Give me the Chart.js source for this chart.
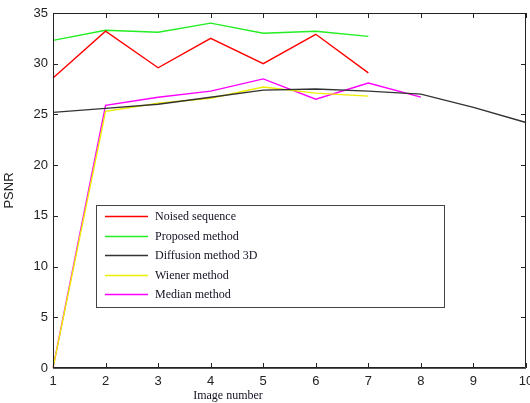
<!DOCTYPE html>
<html>
<head>
<meta charset="utf-8">
<script src="https://cdn.jsdelivr.net/npm/chart.js@4"></script>
<style>
  html, body { margin: 0; padding: 0; background: #fff; }
  #wrap { width: 530px; height: 403px; }
</style>
</head>
<body>
<div id="wrap"><canvas id="psnr-chart" width="530" height="403"></canvas></div>
<script>
// data
const imageNumbers = [1, 2, 3, 4, 5, 6, 7, 8, 9, 10];
const seriesNames = ["Noised sequence", "Proposed method", "Diffusion method 3D", "Wiener method", "Median method"];
const noised = [28.6, 33.2, 29.6, 32.5, 30.0, 32.9, 29.1];
const proposed = [32.3, 33.3, 33.1, 34.0, 33.0, 33.2, 32.7];
const diffusion = [25.2, 25.6, 26.0, 26.7, 27.4, 27.5, 27.3, 27.0, 25.7, 24.2];
const wiener = [0, 25.3, 26.1, 26.6, 27.7, 27.1, 26.8];
const median = [0, 25.9, 26.7, 27.3, 28.5, 26.5, 28.1, 26.7];
const seriesColors = ["#ff0000", "#22ee22", "#333333", "#eeee00", "#ff00ff"];

const tickFont = { family: "'Liberation Sans', Arial, sans-serif", size: 13 };
const serifFont = "12px 'Liberation Serif', 'DejaVu Serif', serif";

// inward ticks on all four sides + box frame
const frameTicks = {
  id: "frameTicks",
  afterDraw(chart) {
    const { ctx, chartArea: a, scales } = chart;
    ctx.save();
    ctx.strokeStyle = "#222";
    ctx.lineWidth = 1;
    ctx.beginPath();
    ctx.rect(a.left + 0.5, a.top + 0.5, a.right - a.left - 1, a.bottom - a.top - 1);
    scales.x.ticks.forEach((t, i) => {
      const px = Math.round(scales.x.getPixelForTick(i)) + 0.5;
      ctx.moveTo(px, a.bottom); ctx.lineTo(px, a.bottom - 5);
      ctx.moveTo(px, a.top); ctx.lineTo(px, a.top + 5);
    });
    scales.y.ticks.forEach((t) => {
      const py = Math.round(scales.y.getPixelForValue(t.value)) + 0.5;
      ctx.moveTo(a.left, py); ctx.lineTo(a.left + 5, py);
      ctx.moveTo(a.right, py); ctx.lineTo(a.right - 5, py);
    });
    ctx.stroke();
    // bottom axis a little heavier, like the original
    ctx.strokeStyle = "#555";
    ctx.beginPath();
    ctx.moveTo(a.left, a.bottom + 0.5);
    ctx.lineTo(a.right, a.bottom + 0.5);
    ctx.stroke();
    ctx.restore();
  },
};

// matlab style legend box in the middle of the plot
const boxLegend = {
  id: "boxLegend",
  afterDraw(chart) {
    const ctx = chart.ctx;
    const x0 = 96, y0 = 205, w = 348, h = 102;
    ctx.save();
    ctx.fillStyle = "#fff";
    ctx.fillRect(x0, y0, w, h);
    ctx.strokeStyle = "#444";
    ctx.lineWidth = 1;
    ctx.strokeRect(x0 + 0.5, y0 + 0.5, w, h);
    ctx.font = serifFont;
    ctx.textBaseline = "middle";
    chart.data.datasets.forEach((ds, i) => {
      const y = Math.round(y0 + 11 + i * 19.5) + 0.5;
      ctx.strokeStyle = ds.borderColor;
      ctx.lineWidth = 1.3;
      ctx.beginPath();
      ctx.moveTo(105, y);
      ctx.lineTo(148, y);
      ctx.stroke();
      ctx.fillStyle = "#111122";
      ctx.fillText(ds.label, 155, y);
    });
    ctx.restore();
  },
};

// x axis title sits left of centre in the original
const xTitle = {
  id: "xTitle",
  afterDraw(chart) {
    const ctx = chart.ctx;
    ctx.save();
    ctx.font = serifFont;
    ctx.fillStyle = "#111122";
    ctx.textAlign = "center";
    ctx.textBaseline = "middle";
    ctx.fillText("Image number", 228, 396);
    ctx.restore();
  },
};

const allSeries = [noised, proposed, diffusion, wiener, median];

const psnrChart = new Chart(document.getElementById("psnr-chart"), {
  type: "line",
  data: {
    labels: imageNumbers,
    datasets: allSeries.map((vals, i) => ({
      label: seriesNames[i],
      data: vals,
      borderColor: seriesColors[i],
      backgroundColor: seriesColors[i],
      borderWidth: 1.4,
      pointRadius: 0,
      tension: 0,
      fill: false,
    })),
  },
  options: {
    responsive: false,
    animation: false,
    layout: { padding: { top: 13, right: 4, left: 0, bottom: 0 } },
    plugins: {
      legend: { display: false },
      tooltip: { enabled: false },
    },
    scales: {
      x: {
        offset: false,
        grid: { display: false, drawTicks: false },
        border: { display: false },
        ticks: { font: tickFont, color: "#222", padding: 6, maxRotation: 0, autoSkip: false },
        afterFit(scale) {
          scale.height = 35;
          scale.paddingLeft = 0;
          scale.paddingRight = 0;
        },
      },
      y: {
        min: 0,
        max: 35,
        ticks: { stepSize: 5, font: tickFont, color: "#222", padding: 5 },
        grid: { display: false, drawTicks: false },
        border: { display: false },
        title: {
          display: true,
          text: "PSNR",
          font: tickFont,
          color: "#222",
          padding: { top: 2, bottom: 0 },
        },
        afterFit(scale) {
          scale.width = 53;
          scale.paddingTop = 0;
          scale.paddingBottom = 0;
        },
      },
    },
  },
  plugins: [frameTicks, boxLegend, xTitle],
});
</script>
</body>
</html>
